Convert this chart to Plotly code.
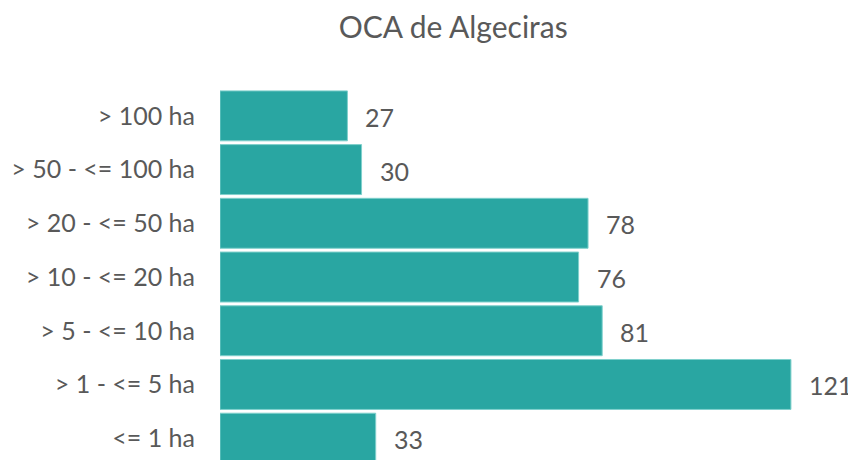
import plotly.graph_objects as go

categories = ["<= 1 ha", "> 1 - <= 5 ha", "> 5 - <= 10 ha", "> 10 - <= 20 ha",
              "> 20 - <= 50 ha", "> 50 - <= 100 ha", "> 100 ha"]
values = [33, 121, 81, 76, 78, 30, 27]
title_text = "OCA de Algeciras"

BAR = "#29A6A2"
TXT = "#595959"
FONT = "Lato, 'Open Sans', sans-serif"

fig = go.Figure()
fig.add_trace(go.Bar(
    x=values, y=categories, orientation="h",
    marker=dict(color=BAR, line=dict(color="#7fd0cc", width=1)),
    width=0.93,
    hoverinfo="skip",
))

for c, v in zip(categories, values):
    fig.add_annotation(x=v, y=c, text=str(v), showarrow=False,
                       xanchor="left", yanchor="middle", xshift=16, yshift=-1,
                       font=dict(family=FONT, size=25, color=TXT))

# page body adds an 8px margin; figure is sized to fill the rest of the window
fig.update_layout(
    width=848, height=452,
    margin=dict(l=212, r=16, t=81, b=0),
    paper_bgcolor="white", plot_bgcolor="white",
    showlegend=False,
    title=dict(text=title_text, x=0.525, xanchor="center", y=0.956, yanchor="middle",
               font=dict(family=FONT, size=30, color=TXT)),
    xaxis=dict(range=[0, 131.4], visible=False, fixedrange=True),
    yaxis=dict(type="category", categoryorder="array", categoryarray=categories,
               range=[-0.406, 6.5], showgrid=False, zeroline=False, showline=False,
               ticks="", ticklabelstandoff=24,
               tickfont=dict(family=FONT, size=25, color=TXT), fixedrange=True),
)

fig.write_html("out.html", config={"displayModeBar": False})
